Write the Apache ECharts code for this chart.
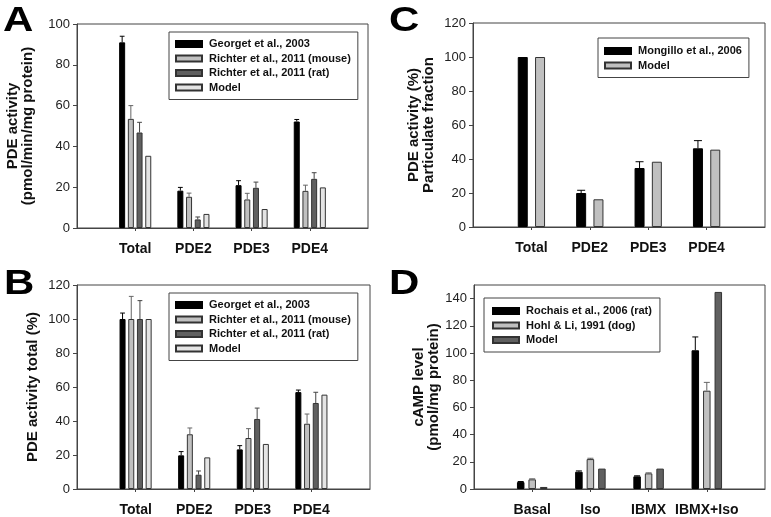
<!DOCTYPE html>
<html>
<head>
<meta charset="utf-8">
<script src="https://cdn.jsdelivr.net/npm/echarts@6/dist/echarts.min.js"></script>
<style>
  html, body { margin: 0; padding: 0; background: #fff; }
  #chart { width: 771px; height: 517px; }
</style>
</head>
<body>
<div id="chart"></div>
<script>
// categories
const catsPDE = ["Total", "PDE2", "PDE3", "PDE4"];
const catsCAMP = ["Basal", "Iso", "IBMX", "IBMX+Iso"];

// panel A: PDE activity (pmol/min/mg protein)
const aGeorget = [91, 18.3, 21, 52.2];
const aGeorgetErr = [3, 1.6, 2.2, 1];
const aMouse = [53.5, 15.3, 14, 18.2];
const aMouseErr = [6.5, 1.8, 3, 2.8];
const aRat = [46.8, 4.2, 19.7, 24.1];
const aRatErr = [5, 1.2, 2.8, 3];
const aModel = [35.4, 6.9, 9.3, 19.9];

// panel B: PDE activity total (%)
const bGeorget = [100, 19.8, 23.3, 57];
const bGeorgetErr = [3.5, 2.2, 2.2, 1.2];
const bMouse = [100, 32.2, 30, 38.4];
const bMouseErr = [13.3, 3.7, 5.5, 5.7];
const bRat = [100, 8.4, 41.2, 50.6];
const bRatErr = [10.8, 2.2, 6.4, 6.3];
const bModel = [100, 18.6, 26.5, 55.5];

// panel C: particulate fraction (%)
const cMongillo = [100, 20, 34.7, 46.3];
const cMongilloErr = [0, 1.6, 3.7, 4.5];
const cModel = [100, 16.3, 38.4, 45.5];

// panel D: cAMP level (pmol/mg protein)
const dRochais = [5.1, 12.7, 9.3, 102];
const dRochaisErr = [0.4, 0.6, 0.4, 9.8];
const dHohl = [7.1, 22, 11.5, 72.3];
const dHohlErr = [0.4, 0.6, 0.4, 6.1];
const dModel = [1.5, 15, 15, 144.9];

// y ticks
const yTicksA = [0, 20, 40, 60, 80, 100];
const yTicksBC = [0, 20, 40, 60, 80, 100, 120];
const yTicksD = [0, 20, 40, 60, 80, 100, 120, 140];

const FONT = "Liberation Sans";
const BLACK = "#000000";
const LIGHT = "#c0c0c0";
const DARK = "#606060";
const PALE = "#e4e4e4";

const chart = echarts.init(document.getElementById("chart"));

function pad(vals) {
  return ["-"].concat(vals, ["-"]);
}

function bars(gi, name, vals, color, w, gapPx) {
  return {
    type: "bar",
    name: name,
    xAxisIndex: gi,
    yAxisIndex: gi,
    data: pad(vals),
    barWidth: w,
    barGap: (gapPx / w) * 100 + "%",
    itemStyle: {
      color: color,
      borderColor: color === BLACK ? BLACK : "#333",
      borderWidth: 1,
    },
    z: 2,
  };
}

function errBars(gi, vals, errs, idx, n, w, gapPx, color) {
  return {
    type: "custom",
    xAxisIndex: gi,
    yAxisIndex: gi,
    data: vals
      .map((v, i) => [i + 1, v, errs[i]])
      .filter((d) => d[2] > 0),
    encode: { x: 0, y: 1 },
    renderItem: (params, api) => {
      const base = api.coord([api.value(0), api.value(1)]);
      const hi = api.coord([api.value(0), api.value(1) + api.value(2)]);
      const x = base[0] + (idx - (n - 1) / 2) * (w + gapPx);
      const c = w * 0.4;
      const st = { stroke: color, lineWidth: 1 };
      return {
        type: "group",
        children: [
          { type: "line", shape: { x1: x, y1: base[1], x2: x, y2: hi[1] }, style: st },
          { type: "line", shape: { x1: x - c, y1: hi[1], x2: x + c, y2: hi[1] }, style: st },
        ],
      };
    },
    z: 3,
  };
}

function xAxisFor(gi, cats) {
  return {
    type: "category",
    gridIndex: gi,
    data: pad(cats).map((c) => (c === "-" ? "" : c)),
    boundaryGap: false,
    axisLine: { lineStyle: { color: "#444", width: 1 } },
    axisTick: {
      length: 3,
      interval: (i) => i > 0 && i < 5,
      lineStyle: { color: "#444" },
    },
    axisLabel: {
      interval: 0,
      margin: 14,
      fontFamily: FONT,
      fontWeight: "bold",
      fontSize: 14,
      color: "#111",
    },
    splitLine: { show: false },
  };
}

function yAxisFor(gi, name, max, ticks, gap) {
  return {
    type: "value",
    gridIndex: gi,
    min: 0,
    max: max,
    interval: 20,
    name: name,
    nameLocation: "middle",
    nameRotate: 90,
    nameGap: gap,
    nameTextStyle: {
      fontFamily: FONT,
      fontWeight: "bold",
      fontSize: 15,
      lineHeight: 15,
      color: "#111",
    },
    axisLine: { show: true, lineStyle: { color: "#444", width: 1 } },
    axisTick: { show: true, length: 4, customValues: ticks, lineStyle: { color: "#444" } },
    axisLabel: {
      customValues: ticks,
      margin: 7,
      fontFamily: FONT,
      fontSize: 13,
      color: "#222",
    },
    splitLine: { show: false },
  };
}

function legendFor(names, left, top, padding) {
  return {
    data: names,
    orient: "vertical",
    left: left,
    top: top,
    icon: "rect",
    itemWidth: 26,
    itemHeight: 6,
    itemGap: 0.5,
    padding: padding,
    borderColor: "#444",
    borderWidth: 1,
    selectedMode: false,
    formatter: (n) => n.split("|")[1],
    textStyle: {
      fontFamily: FONT,
      fontWeight: "bold",
      fontSize: 11,
      lineHeight: 14,
      color: "#111",
      padding: [0, 0, 0, 2],
    },
  };
}

// panel letters, drawn a little wider than the plain bold face
function letter(t, x, y) {
  return {
    type: "text",
    x: x,
    y: y,
    scaleX: 1.2,
    style: {
      text: t,
      font: 'bold 35px "Liberation Sans"',
      fill: "#000",
      verticalAlign: "top",
    },
  };
}

const wAB = 6, gAB = 2.7;
const wC = 10, gC = 7.3;
const wD = 7.5, gD = 4;

const gridBox = { show: true, borderColor: "#444", borderWidth: 1, backgroundColor: "transparent" };

chart.setOption({
  animation: false,
  backgroundColor: "#fff",
  graphic: [letter("A", 3, 4), letter("C", 389, 4), letter("B", 4, 267), letter("D", 389, 267)],
  grid: [
    Object.assign({ left: 77, top: 24, width: 291, height: 204 }, gridBox),
    Object.assign({ left: 473, top: 23, width: 292, height: 204 }, gridBox),
    Object.assign({ left: 77, top: 285, width: 293, height: 204 }, gridBox),
    Object.assign({ left: 474, top: 285, width: 291, height: 204 }, gridBox),
  ],
  xAxis: [xAxisFor(0, catsPDE), xAxisFor(1, catsPDE), xAxisFor(2, catsPDE), xAxisFor(3, catsCAMP)],
  yAxis: [
    yAxisFor(0, "PDE activity\n(pmol/min/mg protein)", 100, yTicksA, 42),
    yAxisFor(1, "PDE activity (%)\nParticulate fraction", 120, yTicksBC, 37),
    yAxisFor(2, "PDE activity total (%)", 120, yTicksBC, 37),
    yAxisFor(3, "cAMP level\n(pmol/mg protein)", 150, yTicksD, 31),
  ],
  legend: [
    legendFor(["A|Georget et al., 2003", "A|Richter et al., 2011 (mouse)", "A|Richter et al., 2011 (rat)", "A|Model"], 169, 32, [5, 7, 5, 6]),
    legendFor(["C|Mongillo et al., 2006", "C|Model"], 598, 38, [6, 7, 5, 6]),
    legendFor(["B|Georget et al., 2003", "B|Richter et al., 2011 (mouse)", "B|Richter et al., 2011 (rat)", "B|Model"], 169, 293, [5, 7, 5, 6]),
    legendFor(["D|Rochais et al., 2006 (rat)", "D|Hohl & Li, 1991 (dog)", "D|Model"], 484, 298, [6, 8, 5, 8]),
  ],
  series: [
    // A
    bars(0, "A|Georget et al., 2003", aGeorget, BLACK, wAB, gAB),
    bars(0, "A|Richter et al., 2011 (mouse)", aMouse, LIGHT, wAB, gAB),
    bars(0, "A|Richter et al., 2011 (rat)", aRat, DARK, wAB, gAB),
    bars(0, "A|Model", aModel, PALE, wAB, gAB),
    errBars(0, aGeorget, aGeorgetErr, 0, 4, wAB, gAB, "#000"),
    errBars(0, aMouse, aMouseErr, 1, 4, wAB, gAB, "#666"),
    errBars(0, aRat, aRatErr, 2, 4, wAB, gAB, "#444"),
    // C
    bars(1, "C|Mongillo et al., 2006", cMongillo, BLACK, wC, gC),
    bars(1, "C|Model", cModel, LIGHT, wC, gC),
    errBars(1, cMongillo, cMongilloErr, 0, 2, wC, gC, "#000"),
    // B
    bars(2, "B|Georget et al., 2003", bGeorget, BLACK, wAB, gAB),
    bars(2, "B|Richter et al., 2011 (mouse)", bMouse, LIGHT, wAB, gAB),
    bars(2, "B|Richter et al., 2011 (rat)", bRat, DARK, wAB, gAB),
    bars(2, "B|Model", bModel, PALE, wAB, gAB),
    errBars(2, bGeorget, bGeorgetErr, 0, 4, wAB, gAB, "#000"),
    errBars(2, bMouse, bMouseErr, 1, 4, wAB, gAB, "#666"),
    errBars(2, bRat, bRatErr, 2, 4, wAB, gAB, "#444"),
    // D
    bars(3, "D|Rochais et al., 2006 (rat)", dRochais, BLACK, wD, gD),
    bars(3, "D|Hohl & Li, 1991 (dog)", dHohl, LIGHT, wD, gD),
    bars(3, "D|Model", dModel, DARK, wD, gD),
    errBars(3, dRochais, dRochaisErr, 0, 3, wD, gD, "#000"),
    errBars(3, dHohl, dHohlErr, 1, 3, wD, gD, "#666"),
  ],
});
</script>
</body>
</html>
